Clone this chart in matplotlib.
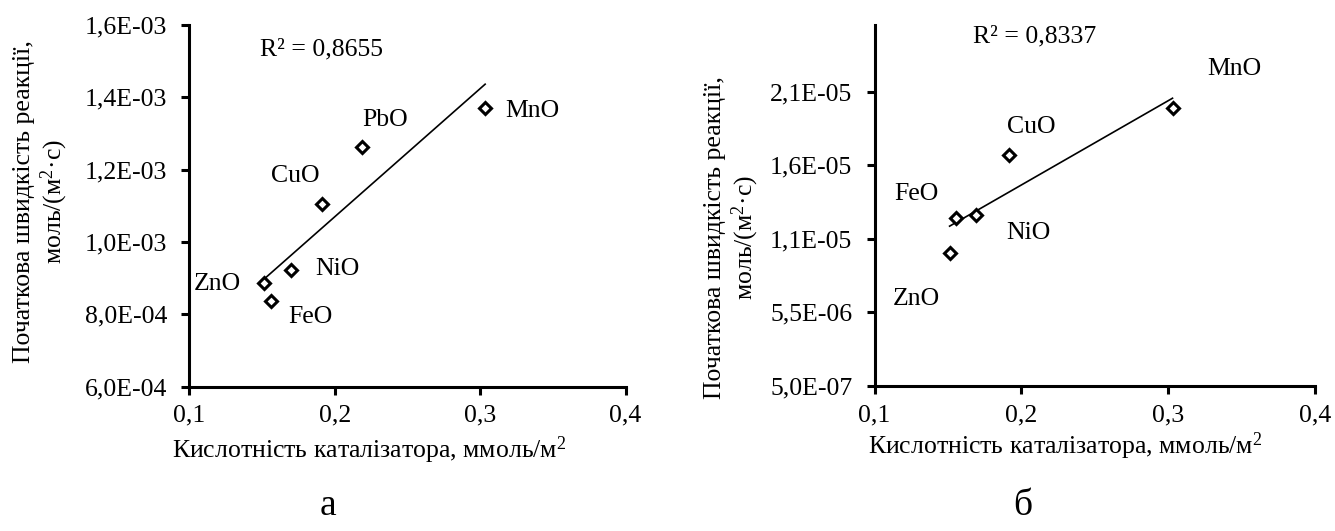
import numpy as np
import matplotlib.pyplot as plt

plt.rcParams['font.family'] = ['Liberation Serif', 'DejaVu Serif']
plt.rcParams['mathtext.fontset'] = 'custom'
plt.rcParams['mathtext.rm'] = 'Liberation Serif'
plt.rcParams['mathtext.it'] = 'Liberation Serif:italic'

# chart a
a_names = ['ZnO', 'FeO', 'NiO', 'CuO', 'PbO', 'MnO']
a_x = [0.151, 0.156, 0.170, 0.191, 0.2186, 0.3034]
a_y = [0.886e-3, 0.837e-3, 0.923e-3, 1.106e-3, 1.262e-3, 1.370e-3]
a_r2 = 'R² = 0,8655'
a_yticks = [6e-4, 8e-4, 1.0e-3, 1.2e-3, 1.4e-3, 1.6e-3]
a_yticklabels = ['6,0E-04', '8,0E-04', '1,0E-03', '1,2E-03', '1,4E-03', '1,6E-03']

# chart б
b_names = ['ZnO', 'FeO', 'NiO', 'CuO', 'MnO']
b_x = [0.1511, 0.1557, 0.1693, 0.1916, 0.3029]
b_y = [9.51e-6, 11.89e-6, 12.12e-6, 16.19e-6, 19.41e-6]
b_r2 = 'R² = 0,8337'
b_yticks = [5e-7, 5.5e-6, 1.05e-5, 1.55e-5, 2.05e-5]
b_yticklabels = ['5,0E-07', '5,5E-06', '1,1E-05', '1,6E-05', '2,1E-05']

xticks = [0.1, 0.2, 0.3, 0.4]
xticklabels = ['0,1', '0,2', '0,3', '0,4']

ylab = 'Початкова швидкість реакції,\nмоль/(м$^2$·с)'
xlab = 'Кислотність каталізатора, ммоль/м$^2$'

# label offsets in pixels from each marker
a_off = [(-46, -1), (40, -16), (46, 1), (-26, 28), (23, 27), (47, -3)]
b_off = [(-33, -46), (-40, 24), (52, -18), (22, 28), (62, 39)]

fs = 18.5

fig = plt.figure(figsize=(13.35, 5.31), dpi=100)
ax1 = fig.add_axes([0.1419, 0.2718, 0.3267, 0.6812])
ax2 = fig.add_axes([0.6551, 0.2731, 0.3300, 0.6790])


def draw(ax, x, y, names, offs, r2, r2pos, yt, ytl, ylim):
    x = np.array(x)
    y = np.array(y)
    k, b = np.polyfit(x, y, 1)
    xx = np.array([x.min(), x.max()])
    ax.plot(xx, k * xx + b, color='black', lw=1.2, zorder=2)
    ax.plot(x, y, 'D', ms=6, mfc='white', mec='black', mew=2.2, zorder=3)
    for xi, yi, n, o in zip(x, y, names, offs):
        ax.annotate(n, (xi, yi), xytext=o, textcoords='offset pixels',
                    ha='center', va='center', fontsize=fs)
    ax.text(r2pos[0], r2pos[1], r2, fontsize=fs, ha='left', va='center')
    ax.set_xlim(0.1, 0.4)
    ax.set_ylim(*ylim)
    ax.set_xticks(xticks)
    ax.set_xticklabels(xticklabels)
    ax.set_yticks(yt)
    ax.set_yticklabels(ytl)
    ax.spines['top'].set_visible(False)
    ax.spines['right'].set_visible(False)
    ax.spines['left'].set_linewidth(2.2)
    ax.spines['bottom'].set_linewidth(2.2)
    ax.tick_params(axis='both', direction='out', length=6, width=2.2, labelsize=fs)
    ax.tick_params(axis='y', pad=10)
    ax.tick_params(axis='x', pad=7)


draw(ax1, a_x, a_y, a_names, a_off, a_r2, (0.1485, 1.531e-3),
     a_yticks, a_yticklabels, (6e-4, 1.6e-3))
draw(ax2, b_x, b_y, b_names, b_off, b_r2, (0.1672, 2.423e-5),
     b_yticks, b_yticklabels, (5e-7, 2.5e-5))

fig.text(0.0311, 0.6196, ylab, rotation=90, ha='center', va='center',
         fontsize=fs, multialignment='center', linespacing=1.15)
fig.text(0.5487, 0.5518, ylab, rotation=90, ha='center', va='center',
         fontsize=fs, multialignment='center', linespacing=1.15)
fig.text(0.2764, 0.1525, xlab, ha='center', va='center', fontsize=fs)
fig.text(0.7978, 0.1588, xlab, ha='center', va='center', fontsize=fs)
fig.text(0.2457, 0.03, 'а', ha='center', va='baseline', fontsize=27)
fig.text(0.7661, 0.03, 'б', ha='center', va='baseline', fontsize=27)

fig.savefig('out.png', dpi=100)
